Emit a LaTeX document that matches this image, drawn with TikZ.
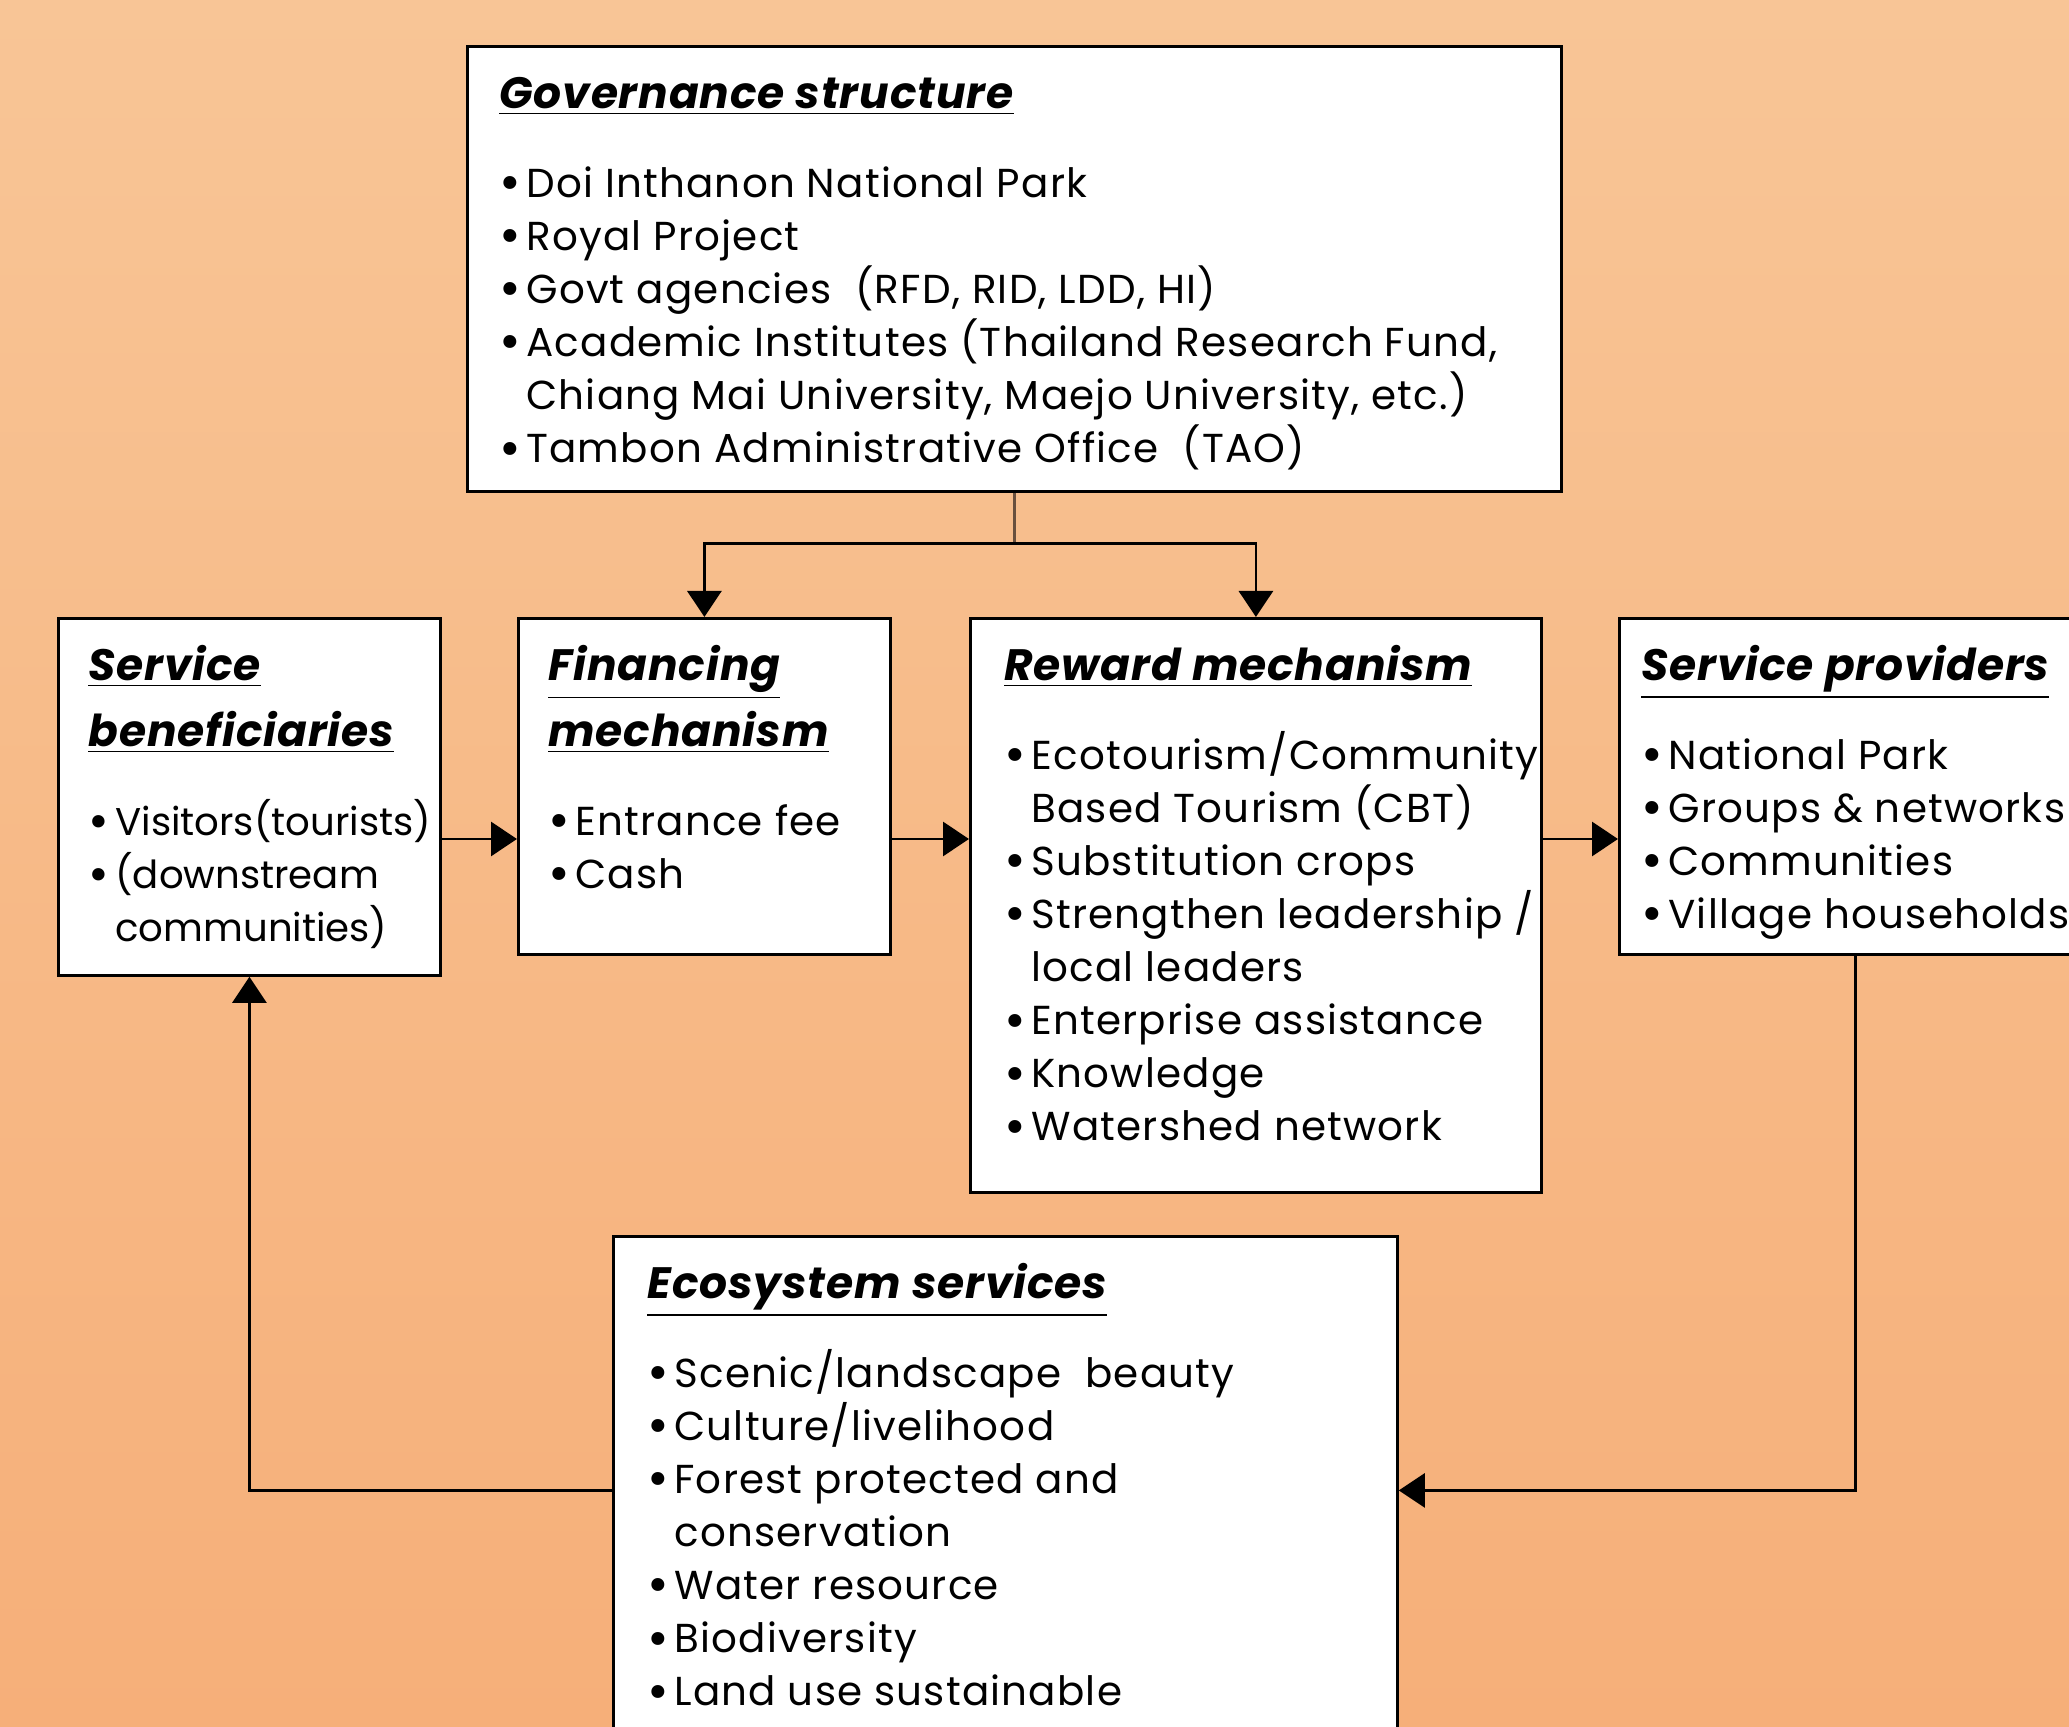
\documentclass[tikz,border=0pt]{standalone}
\usepackage{fontspec}
\setmainfont{Poppins}
\usetikzlibrary{arrows.meta}

\definecolor{bgtop}{RGB}{248,197,150}
\definecolor{bgbot}{RGB}{246,175,121}
\definecolor{stem}{RGB}{105,80,62}

\tikzset{
  panel/.style={draw=black, fill=white, line width=0.8pt, anchor=north west, inner ysep=0pt},
  flow/.style={line width=0.8pt, -{Triangle[length=0.26cm,width=0.34cm]}},
}

\newcommand{\head}[1]{{\fontsize{12.5}{18.8}\selectfont\addfontfeature{LetterSpace=2}\bfseries\itshape\underline{#1}}}
\newcommand{\gap}{\par\vspace{0.36cm}}
\newcommand{\bul}[1]{\par\makebox[0.27cm][l]{\raisebox{-0.08em}{\scalebox{1.3}{\textbullet}}}\mbox{#1}}
\newcommand{\cnt}[1]{\par\hspace*{0.27cm}\mbox{#1}}
\newcommand{\wide}{\fontsize{11.5}{15.1}\selectfont\addfontfeature{LetterSpace=3}}
\newcommand{\panelbox}[4][\wide]{\begin{minipage}[t][#3][t]{#2}\fontsize{11}{15.1}\selectfont#1\lineskiplimit=-20pt\rule{0pt}{0.62cm}#4\end{minipage}}

\begin{document}
\begin{tikzpicture}
  \useasboundingbox (0,0) rectangle (20.69,-17.27);
  \fill[top color=bgtop, bottom color=bgbot] (0,0) rectangle (20.69,-17.27);

  % boxes
  \node[panel, inner xsep=0.32cm, minimum width=10.94cm, minimum height=4.45cm] (gov) at (4.66,-0.45)
    {\panelbox{10.30cm}{4.45cm}{\head{Governance structure}\gap
      \bul{Doi Inthanon National Park}
      \bul{Royal Project}
      \bul{Govt agencies\ \ (RFD, RID, LDD, HI)}
      \bul{Academic\ Institutes (Thailand Research\ Fund,}
      \cnt{Chiang Mai University, Maejo University, etc.)}
      \bul{Tambon Administrative Office\ \ (TAO)}}};
  \node[panel, inner xsep=0.30cm, minimum width=3.82cm, minimum height=3.57cm] (benef) at (0.57,-6.17)
    {\panelbox[\relax]{3.22cm}{3.57cm}{\head{Service}\\[0.13cm]\head{beneficiaries}\gap
      \bul{Visitors(tourists)}
      \bul{(downstream}
      \cnt{communities)}}};
  \node[panel, inner xsep=0.30cm, minimum width=3.72cm, minimum height=3.36cm] (fin) at (5.17,-6.17)
    {\panelbox{3.12cm}{3.36cm}{\head{Financing}\\[0.13cm]\head{mechanism}\gap
      \bul{Entrance fee}
      \bul{Cash}}};
  \node[panel, inner xsep=0.34cm, minimum width=5.71cm, minimum height=5.74cm] (reward) at (9.69,-6.17)
    {\panelbox{5.03cm}{5.74cm}{\head{Reward mechanism}\gap
      \bul{Ecotourism/Community}
      \cnt{Based Tourism (CBT)}
      \bul{Substitution crops}
      \bul{Strengthen leadership /}
      \cnt{local leaders}
      \bul{Enterprise assistance}
      \bul{Knowledge}
      \bul{Watershed network}}};
  \node[panel, inner xsep=0.22cm, minimum width=4.72cm, minimum height=3.36cm] (prov) at (16.18,-6.17)
    {\panelbox{4.28cm}{3.36cm}{\head{Service providers}\gap
      \bul{National Park}
      \bul{Groups \& networks}
      \bul{Communities}
      \bul{Village households}}};
  \node[panel, inner xsep=0.34cm, minimum width=7.84cm, minimum height=5.08cm] (eco) at (6.12,-12.35)
    {\panelbox{7.16cm}{5.08cm}{\head{Ecosystem services}\gap
      \bul{Scenic/landscape\ \ beauty}
      \bul{Culture/livelihood}
      \bul{Forest protected and}
      \cnt{conservation}
      \bul{Water resource}
      \bul{Biodiversity}
      \bul{Land use sustainable}}};

  % connectors
  \coordinate (row) at (0,-8.39);
  \draw[stem, line width=0.8pt] (gov.south) -- ++(0,-0.51) coordinate (split);
  \draw[flow] (split) -| (fin.north);
  \draw[flow] (split) -| (reward.north);
  \draw[flow] (benef.east |- row) -- (fin.west |- row);
  \draw[flow] (fin.east |- row) -- (reward.west |- row);
  \draw[flow] (reward.east |- row) -- (prov.west |- row);
  \draw[flow] (prov.south) |- (eco.east);
  \draw[flow] (eco.west) -| (benef.south);
\end{tikzpicture}
\end{document}
